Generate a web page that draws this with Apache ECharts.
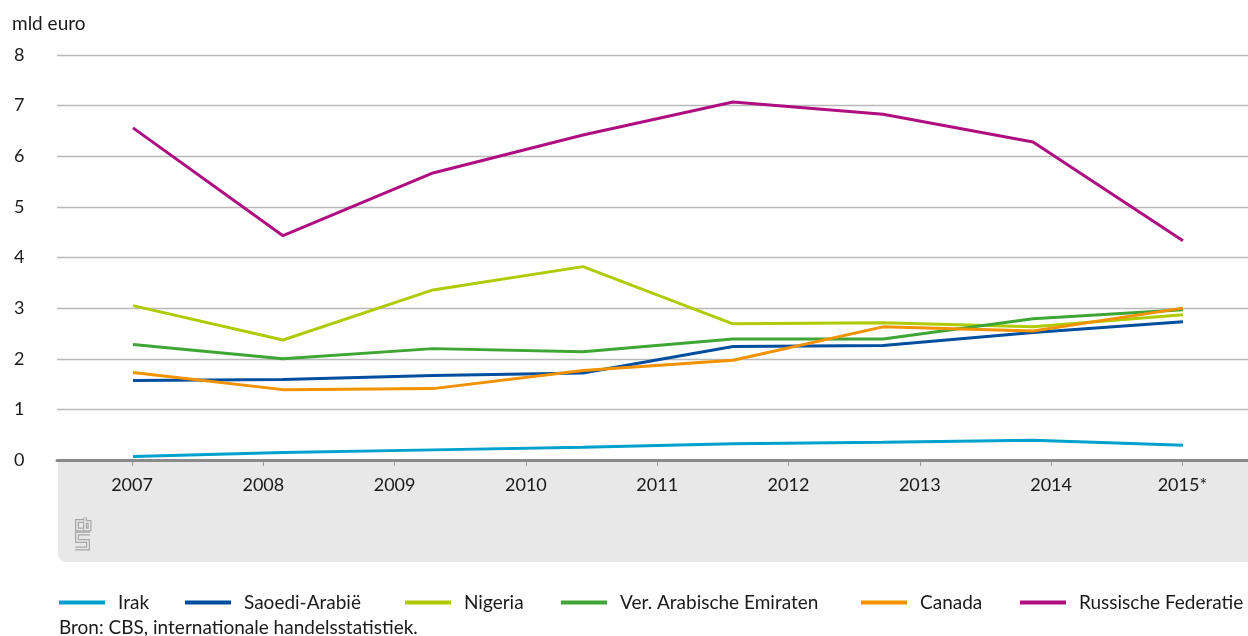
<!DOCTYPE html>
<html>
<head>
<meta charset="utf-8">
<script src="https://cdn.jsdelivr.net/npm/echarts@6/dist/echarts.min.js"></script>
<style>html,body{margin:0;padding:0;background:#fff}#c{width:1248px;height:636px}</style>
</head>
<body>
<div id="c"></div>
<script>
// Tick labels on the x axis
const yearLabels = ['2007','2008','2009','2010','2011','2012','2013','2014','2015*'];
// The eight plotted data points per series (evenly spread across the same span)
const pointIds = ['p1','p2','p3','p4','p5','p6','p7','p8'];
const irak     = [0.07, 0.15, 0.20, 0.25, 0.32, 0.35, 0.39, 0.29];
const saoedi   = [1.57, 1.59, 1.67, 1.72, 2.24, 2.26, 2.52, 2.73];
const nigeria  = [3.05, 2.37, 3.36, 3.82, 2.69, 2.71, 2.63, 2.87];
const vae      = [2.28, 2.00, 2.20, 2.14, 2.39, 2.39, 2.79, 2.97];
const canada   = [1.73, 1.39, 1.41, 1.77, 1.97, 2.63, 2.55, 3.00];
const rusland  = [6.56, 4.43, 5.67, 6.42, 7.07, 6.83, 6.28, 4.33];
const seriesNames = ['Irak','Saoedi-Arabië','Nigeria','Ver. Arabische Emiraten','Canada','Russische Federatie'];
const seriesValues = [irak, saoedi, nigeria, vae, canada, rusland];
const colors = ['#00a1cd','#004f9f','#afcb05','#3fa535','#f39200','#af0e80'];

const FONT = 'Lato';
const chart = echarts.init(document.getElementById('c'));
const legendLeft = [59, 185, 405, 561, 861, 1020];

const logoStroke = (pts, w, c) => ({type: 'polyline', shape: {points: pts}, style: {stroke: c, lineWidth: w, fill: null, lineJoin: 'miter', lineCap: 'butt'}});
const logoPaths = [
  [[8,3.5],[1.5,3.5],[1.5,12],[8,12]],
  [[9.5,0],[9.5,12],[14,12],[14,4.5],[9.5,4.5]],
  [[14.5,16],[1.5,16],[1.5,23.5],[12.5,23.5],[12.5,31],[0,31]]
];
const logoChildren = [];
logoPaths.forEach(p => logoChildren.push(logoStroke(p, 4, '#a6a6a6')));
logoPaths.forEach(p => logoChildren.push(logoStroke(p, 1.6, '#e8e8e8')));

chart.setOption({
  animation: false,
  textStyle: {fontFamily: FONT},
  grid: [
    {left: 57, right: 0, top: 55, bottom: 176},
    {left: 66.4, right: 0, top: 55, bottom: 176},
    {left: 133, right: 65, top: 55, bottom: 176}
  ],
  xAxis: [
    {gridIndex: 0, type: 'value', min: 0, max: 1,
     axisLine: {show: true, onZero: false, lineStyle: {color: '#8a8a8a', width: 3}},
     axisTick: {show: false}, axisLabel: {show: false}, splitLine: {show: false}, z: 5},
    {gridIndex: 1, type: 'category', data: yearLabels, boundaryGap: true,
     axisLine: {show: false},
     axisTick: {show: true, alignWithLabel: true, length: 6, lineStyle: {color: '#9a9a9a', width: 1}},
     axisLabel: {color: '#1a1a1a', fontSize: 18, margin: 16, fontFamily: FONT}},
    {gridIndex: 2, type: 'category', data: pointIds, boundaryGap: false, show: false}
  ],
  yAxis: [
    {gridIndex: 0, type: 'value', min: 0, max: 8, interval: 1,
     axisLine: {show: false}, axisTick: {show: false},
     axisLabel: {color: '#1a1a1a', fontSize: 18, align: 'left', margin: 43, fontFamily: FONT},
     splitLine: {lineStyle: {color: '#b9b9b9', width: 1.3}}},
    {gridIndex: 1, type: 'value', min: 0, max: 8, show: false},
    {gridIndex: 2, type: 'value', min: 0, max: 8, show: false}
  ],
  legend: seriesNames.map((n, i) => ({
    data: [n], left: legendLeft[i], top: 593, padding: 0,
    icon: 'rect', itemWidth: 46, itemHeight: 4,
    textStyle: {fontSize: 19, color: '#1a1a1a', padding: [0, 0, 0, 8], fontFamily: FONT}
  })),
  series: seriesNames.map((n, i) => ({
    name: n, type: 'line', xAxisIndex: 2, yAxisIndex: 2,
    data: seriesValues[i], symbol: 'none', color: colors[i],
    lineStyle: {width: 3, color: colors[i]}, z: 3 + i
  })),
  graphic: [
    {type: 'rect', z: -10, shape: {x: 58, y: 461, width: 1200, height: 101, r: [0, 0, 0, 8]},
     style: {fill: '#e8e8e8'}},
    {type: 'text', left: 12, top: 14, style: {text: 'mld euro', font: '19px ' + FONT, fill: '#1a1a1a'}},
    {type: 'text', left: 59, top: 618, style: {text: 'Bron: CBS, internationale handelsstatistiek.', font: '19px ' + FONT, fill: '#1a1a1a'}},
    {type: 'group', left: 73, top: 515, children: logoChildren}
  ]
});
</script>
</body>
</html>
